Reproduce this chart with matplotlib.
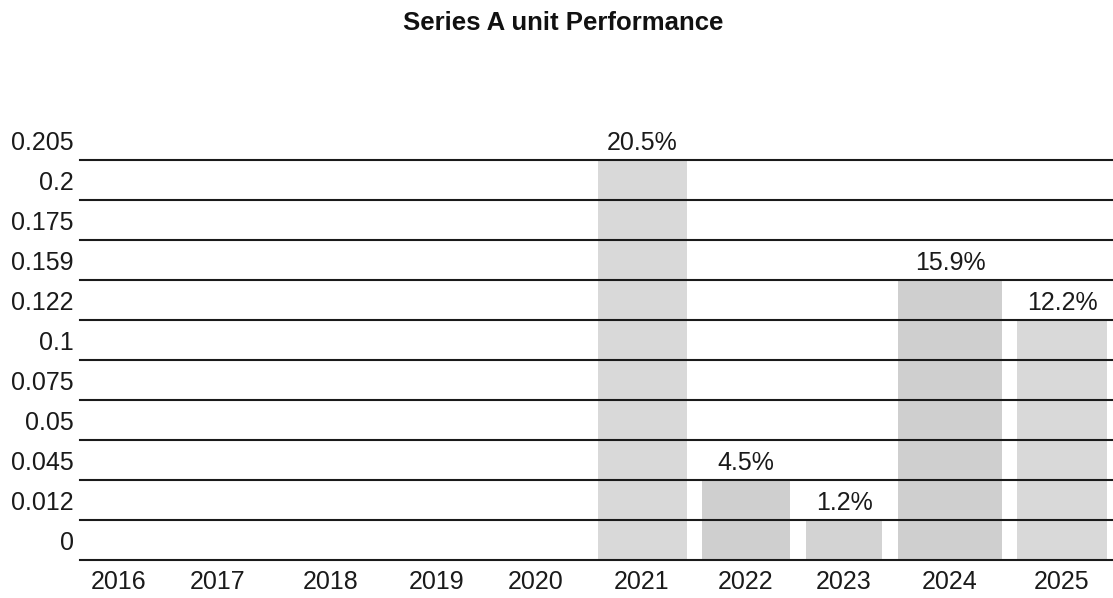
import numpy as np
import matplotlib
matplotlib.use('Agg')
import matplotlib.pyplot as plt
from matplotlib.transforms import ScaledTranslation

# Data
years = ['2016', '2017', '2018', '2019', '2020', '2021', '2022', '2023', '2024', '2025']
values = [None, None, None, None, None, 0.205, 0.045, 0.012, 0.159, 0.122]
value_labels = ['', '', '', '', '', '20.5%', '4.5%', '1.2%', '15.9%', '12.2%']
# ordinal y scale used by the original chart (one band per tick)
y_ticks = [0, 0.012, 0.045, 0.05, 0.075, 0.1, 0.122, 0.159, 0.175, 0.2, 0.205]
y_tick_labels = ['0', '0.012', '0.045', '0.05', '0.075', '0.1', '0.122', '0.159', '0.175', '0.2', '0.205']

# Layout (pixels): band centres and bar widths
x_centers = [119, 218, 331, 437, 536, 642, 746, 844, 950, 1062]
bar_widths = [0, 0, 0, 0, 0, 89, 88, 76, 104, 90]
bar_colors = ['#d9d9d9', '#d9d9d9', '#d9d9d9', '#d9d9d9', '#d9d9d9',
              '#d9d9d9', '#cfcfcf', '#d3d3d3', '#cfcfcf', '#d9d9d9']

plt.rcParams['font.family'] = ['Liberation Sans', 'DejaVu Sans']

W, H = 1113, 598
fig = plt.figure(figsize=(W / 100, H / 100), dpi=100)
ax = fig.add_axes([80 / W, 38 / H, 1 - 80 / W, 400 / H])

ax.set_xlim(80, W)
ax.set_ylim(0, len(y_ticks) - 1)

# Bars, height = position of the value on the ordinal scale
for xc, v, w, c in zip(x_centers, values, bar_widths, bar_colors):
    if v is None:
        continue
    ax.bar(xc, y_ticks.index(v), width=w, color=c, zorder=1)

# Horizontal rules on top of the bars
for i in range(len(y_ticks)):
    ax.axhline(i, color='#1a1a1a', lw=1.5, zorder=3, clip_on=False)

up = ScaledTranslation(0, 17 / 100, fig.dpi_scale_trans)

# Value labels above bars
for xc, v, lab in zip(x_centers, values, value_labels):
    if v is None:
        continue
    ax.text(xc, y_ticks.index(v), lab, ha='center', va='center',
            fontsize=18, color='#1a1a1a', transform=ax.transData + up, zorder=4)

# Y tick labels sit above their line
ax.set_yticks(range(len(y_ticks)))
ax.set_yticklabels(y_tick_labels)
ax.tick_params(axis='y', length=0, pad=4.5, labelsize=18, labelcolor='#1a1a1a')
for lab in ax.get_yticklabels():
    lab.set_transform(lab.get_transform() + up)
    lab.set_verticalalignment('center')

ax.set_xticks(x_centers)
ax.set_xticklabels(years)
ax.tick_params(axis='x', length=0, pad=7.5, labelsize=18, labelcolor='#1a1a1a')

for spine in ax.spines.values():
    spine.set_visible(False)

fig.text(563 / W, 1 - 23 / H, 'Series A unit Performance', ha='center', va='center',
         fontsize=18.5, fontweight='bold', color='#111111')

fig.savefig('out.png', dpi=100, facecolor='white')
